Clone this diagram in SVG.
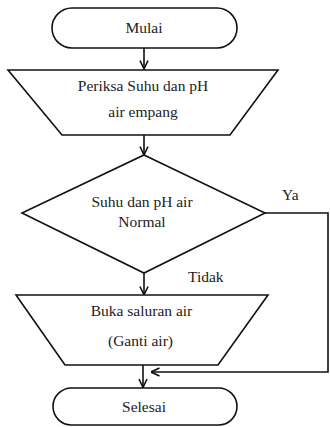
<svg xmlns="http://www.w3.org/2000/svg" width="330" height="427" viewBox="0 0 330 427">
<defs>
<style>
.s{fill:#fff;stroke:#111;stroke-width:1.6}
.c{fill:none;stroke:#111;stroke-width:1.6}
</style>
<marker id="ah" viewBox="0 0 10 10" refX="9.5" refY="5" markerWidth="10" markerHeight="10" markerUnits="userSpaceOnUse" orient="auto">
<path d="M1,1 L9.5,5 L1,9" fill="none" stroke="#111" stroke-width="1.6"/>
</marker>
</defs>
<rect width="330" height="427" fill="#fff"/>
<g id="connectors">
<line class="c" x1="144" y1="48" x2="144" y2="69" marker-end="url(#ah)"/>
<line class="c" x1="144" y1="135" x2="144" y2="155" marker-end="url(#ah)"/>
<line class="c" x1="144" y1="273" x2="144" y2="295" marker-end="url(#ah)"/>
<line class="c" x1="143" y1="365" x2="143" y2="387.5" marker-end="url(#ah)"/>
<polyline class="c" points="265,213 328,213 328,372 151,372" marker-end="url(#ah)"/>
<text font-family="Liberation Serif" font-size="15.5" fill="#222" x="282" y="200">Ya</text>
<text font-family="Liberation Serif" font-size="15.5" fill="#222" x="188" y="282">Tidak</text>
</g>
<g id="mulai">
<rect class="s" x="52" y="8" width="185" height="40" rx="20" ry="20"/>
<text font-family="Liberation Serif" font-size="15.5" fill="#222" text-anchor="middle" x="144" y="33">Mulai</text>
</g>
<g id="periksa">
<polygon class="s" points="8,70 278,70 230,135 62,135"/>
<text font-family="Liberation Serif" font-size="15.5" fill="#222" text-anchor="middle" x="143" y="91">Periksa Suhu dan pH</text>
<text font-family="Liberation Serif" font-size="15.5" fill="#222" text-anchor="middle" x="143" y="117">air empang</text>
</g>
<g id="keputusan">
<polygon class="s" points="144,155 265,213 144,273 22,213"/>
<text font-family="Liberation Serif" font-size="15.5" fill="#222" text-anchor="middle" x="142" y="207">Suhu dan pH air</text>
<text font-family="Liberation Serif" font-size="15.5" fill="#222" text-anchor="middle" x="142" y="227">Normal</text>
</g>
<g id="buka">
<polygon class="s" points="16,295 268,295 218,365 65,365"/>
<text font-family="Liberation Serif" font-size="15.5" fill="#222" text-anchor="middle" x="141.5" y="316">Buka saluran air</text>
<text font-family="Liberation Serif" font-size="15.5" fill="#222" text-anchor="middle" x="140.5" y="346">(Ganti air)</text>
</g>
<g id="selesai">
<rect class="s" x="53" y="388" width="184" height="37" rx="18.5" ry="18.5"/>
<text font-family="Liberation Serif" font-size="15.5" fill="#222" text-anchor="middle" x="144" y="412">Selesai</text>
</g>
</svg>
